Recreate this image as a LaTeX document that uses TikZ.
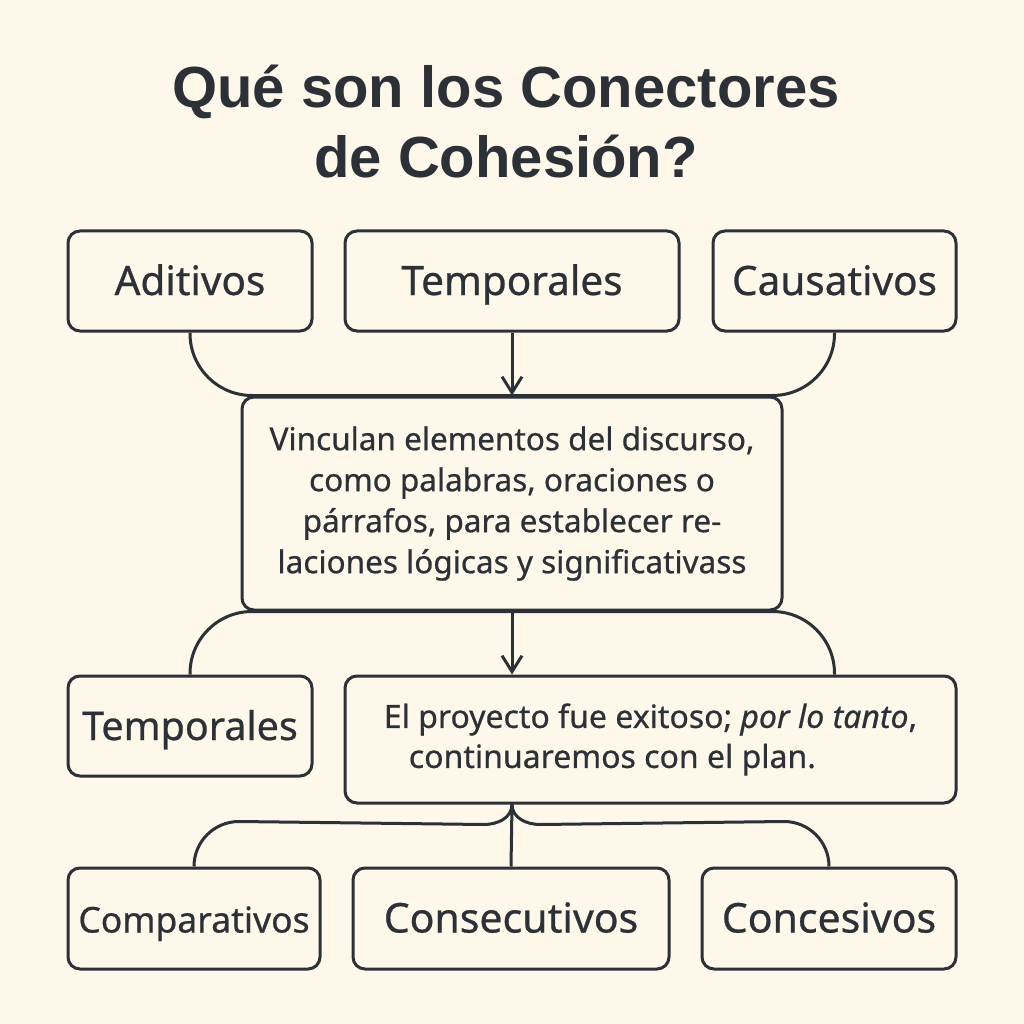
\documentclass[tikz,border=0pt]{standalone}
\usepackage{fontspec}
\setmainfont{Noto Sans}[FakeBold=0.6, ItalicFeatures={FakeBold=0.6}]
\newfontfamily\titlefont{Liberation Sans}
\usepackage{tikz}
\usetikzlibrary{positioning, calc, arrows.meta}
\definecolor{paper}{HTML}{FDF8EA}
\definecolor{ink}{HTML}{2B3136}

\begin{document}
\begin{tikzpicture}
        [
            x=1pt, y=-1pt,
            box/.style={draw=ink, line width=3pt, rounded corners=12pt,
                        fill=paper, inner sep=0pt, text=ink, align=center},
            label box/.style={box, text height=28pt, text depth=0pt},
            conn/.style={draw=ink, line width=3pt},
            arr/.style={conn, -{Straight Barb[length=16pt,width=20pt,line width=3pt]}}
        ]
        \fill[paper] (0,0) rectangle (1024,1024);
        \node (title) at (506,122) [text=ink, align=center,
            font=\titlefont\bfseries\fontsize{58}{70}\selectfont]
            {Qué son los Conectores\\de Cohesión?};
        % first row
        \foreach \n/\x/\w/\t in {adit/190/244/Aditivos, tempA/512/334/Temporales,
                                 caus/834.5/243/Causativos}{
            \node (\n) [label box, minimum width=\w pt, minimum height=100pt,
                        font=\fontsize{40.5}{40}\selectfont] at (\x, 281) {\t};
        }
        \node (def) [box, minimum width=540pt, minimum height=213pt,
                     font=\fontsize{31.5}{41}\selectfont] at (512,503.5)
            {Vinculan elementos del discurso,\\como palabras, oraciones o\\
             párrafos, para establecer re-\\laciones lógicas y significativass};
        \node (tempB) [label box, minimum width=244pt, minimum height=100pt,
                       font=\fontsize{39.5}{40}\selectfont] at (190,726) {Temporales};
        \node (ejem) [box, minimum width=611pt, minimum height=127pt, align=left,
                      font=\fontsize{32}{40}\selectfont] at (650.5,739.5)
            {El proyecto fue exitoso; \textit{por lo tanto},\\
             \hspace*{25pt}continuaremos con el plan.};
        % last row
        \foreach \n/\x/\w/\s/\t in {comp/194/252/35.5/Comparativos,
                                    cons/511/316/41/Consecutivos,
                                    conc/829/254/41/Concesivos}{
            \node (\n) [label box, minimum width=\w pt, minimum height=101pt,
                        font=\fontsize{\s}{40}\selectfont] at (\x, 918.5) {\t};
        }
        \draw [conn, rounded corners=62pt] (adit.south) |- (caus.south |- def.north)
            -- (caus.south);
        \draw [arr] (tempA.south) -- (def.north);
        \draw [conn, rounded corners=62pt] (tempB.north) |- (caus.south |- def.south)
            -- (caus.south |- ejem.north);
        \draw [arr] (def.south) -- (def.south |- ejem.north);
        \coordinate (j) at (def.south |- ejem.south);
        \draw [conn] (j) to [out=-90, in=0] ($(j)+(-28,20)$)
            -- ($(comp.north)+(45,-45)$) to [out=180, in=90] (comp.north);
        \draw [conn] (j) to [out=-90, in=180] ($(j)+(28,20)$)
            -- ($(conc.north)+(-45,-45)$) to [out=0, in=90] (conc.north);
        \draw [conn] (j) -- (cons.north);
    \end{tikzpicture}
\end{document}
